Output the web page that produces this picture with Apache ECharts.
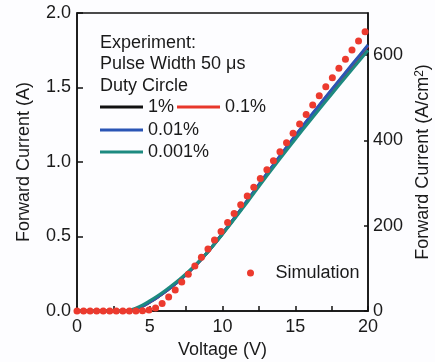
<!DOCTYPE html>
<html>
<head>
<meta charset="utf-8">
<script src="https://cdn.jsdelivr.net/npm/echarts@6/dist/echarts.min.js"></script>
<style>
  html, body { margin: 0; padding: 0; background: #fdfdff; }
  #main { width: 435px; height: 362px; }
</style>
</head>
<body>
<div id="main"></div>
<script>
// experiment: forward current (A) vs voltage (V), four duty cycles
var expVoltage = [0, 1, 2, 3, 3.5, 4, 4.5, 5, 5.5, 6, 6.5, 7, 7.5, 8, 8.5, 9, 9.5, 10, 10.5, 11, 11.5, 12, 13, 14, 15, 16, 17, 18, 19, 20];
var duty1 = [0, 0, 0, 0, 0.002, 0.012, 0.032, 0.06, 0.091, 0.125, 0.162, 0.202, 0.245, 0.292, 0.343, 0.398, 0.457, 0.519, 0.582, 0.646, 0.712, 0.778, 0.911, 1.042, 1.17, 1.294, 1.416, 1.536, 1.654, 1.77];
var duty01 = [0, 0, 0, 0, 0.002, 0.012, 0.032, 0.06, 0.091, 0.125, 0.162, 0.202, 0.245, 0.292, 0.343, 0.398, 0.457, 0.519, 0.583, 0.647, 0.713, 0.78, 0.913, 1.045, 1.174, 1.299, 1.421, 1.542, 1.661, 1.78];
var duty001 = [0, 0, 0, 0, 0.002, 0.012, 0.032, 0.06, 0.091, 0.125, 0.162, 0.202, 0.245, 0.292, 0.343, 0.398, 0.457, 0.519, 0.583, 0.648, 0.714, 0.781, 0.915, 1.047, 1.176, 1.302, 1.425, 1.546, 1.666, 1.785];
var duty0001 = [0, 0, 0, 0, 0.003, 0.017, 0.039, 0.068, 0.099, 0.133, 0.17, 0.209, 0.251, 0.296, 0.345, 0.398, 0.455, 0.515, 0.577, 0.64, 0.704, 0.769, 0.9, 1.028, 1.153, 1.275, 1.395, 1.514, 1.632, 1.75];

// simulation points
var simVoltage = [0, 0.45, 0.9, 1.35, 1.8, 2.25, 2.7, 3.15, 3.6, 4.05, 4.5, 4.95, 5.4, 5.85, 6.3, 6.75, 7.2, 7.65, 8.1, 8.55, 9.0, 9.45, 9.9, 10.35, 10.8, 11.25, 11.7, 12.15, 12.6, 13.05, 13.5, 13.95, 14.4, 14.85, 15.3, 15.75, 16.2, 16.65, 17.1, 17.55, 18.0, 18.45, 18.9, 19.35, 19.8];
var simCurrent = [0, 0, 0, 0, 0, 0, 0, 0, 0, 0, 0.002, 0.006, 0.02, 0.05, 0.094, 0.141, 0.195, 0.246, 0.302, 0.36, 0.416, 0.477, 0.534, 0.594, 0.655, 0.713, 0.772, 0.83, 0.889, 0.948, 1.009, 1.069, 1.13, 1.193, 1.255, 1.318, 1.383, 1.445, 1.505, 1.566, 1.629, 1.689, 1.752, 1.812, 1.875];

var xTicks = [0, 5, 10, 15, 20];
var rightTicks = [0, 200, 400, 600];

function pairs(xs, ys) {
    var out = [];
    for (var i = 0; i < xs.length; i++) out.push([xs[i], ys[i]]);
    return out;
}

var FONT = 'Liberation Sans, Arial, sans-serif';
var TXT = '#1a1a1a';
var FS = 18;

var myChart = echarts.init(document.getElementById('main'), null, {renderer: 'canvas'});

var lineSeries = function (name, data, color) {
    return {
        name: name,
        type: 'line',
        data: pairs(expVoltage, data),
        showSymbol: false,
        symbol: 'none',
        smooth: 0.3,
        lineStyle: {color: color, width: 3},
        itemStyle: {color: color},
        z: 2
    };
};

var legendText = {fontFamily: FONT, fontSize: FS, color: TXT, lineHeight: 20};

var option = {
    animation: false,
    backgroundColor: '#fdfdff',
    textStyle: {fontFamily: FONT},
    grid: {
        left: 77, right: 67, top: 13, bottom: 51,
        outerBoundsMode: 'none',
        show: true, borderColor: '#111', borderWidth: 1.5, backgroundColor: 'transparent'
    },
    title: {
        text: 'Experiment:\nPulse Width 50 \u03bcs\nDuty Circle',
        left: 100, top: 32, padding: 0,
        textStyle: {fontFamily: FONT, fontSize: FS, fontWeight: 'normal', color: TXT, lineHeight: 21.5}
    },
    legend: [
        {
            data: ['1%', '0.1%'], left: 100, top: 97, padding: 0, itemGap: 3,
            icon: 'rect', itemWidth: 43, itemHeight: 3, textStyle: legendText
        },
        {
            data: ['0.01%'], left: 100, top: 120, padding: 0,
            icon: 'rect', itemWidth: 43, itemHeight: 3, textStyle: legendText
        },
        {
            data: ['0.001%'], left: 100, top: 142, padding: 0,
            icon: 'rect', itemWidth: 43, itemHeight: 3, textStyle: legendText
        },
        {
            data: ['Simulation'], left: 247, top: 263, padding: 0,
            icon: 'circle', itemWidth: 40, itemHeight: 7, textStyle: legendText
        }
    ],
    xAxis: {
        type: 'value', min: 0, max: 20, interval: 2.5,
        name: 'Voltage (V)', nameLocation: 'middle', nameGap: 28,
        nameTextStyle: {fontFamily: FONT, fontSize: FS, color: TXT},
        axisLine: {lineStyle: {color: '#111', width: 1.5}},
        axisTick: {inside: true, length: 5, lineStyle: {color: '#111', width: 1.5}},
        axisLabel: {
            fontFamily: FONT, fontSize: FS, color: TXT, margin: 7,
            formatter: function (v) { return xTicks.indexOf(v) >= 0 ? String(v) : ''; }
        },
        splitLine: {show: false}
    },
    yAxis: [
        {
            type: 'value', min: 0, max: 2, interval: 0.5, position: 'left',
            name: 'Forward Current (A)', nameLocation: 'middle', nameGap: 44,
            nameTextStyle: {fontFamily: FONT, fontSize: FS, color: TXT},
            axisLine: {show: true, lineStyle: {color: '#111', width: 1.5}},
            axisTick: {show: true, inside: true, length: 6, lineStyle: {color: '#111', width: 1.5}},
            axisLabel: {
                fontFamily: FONT, fontSize: FS, color: TXT, margin: 6,
                formatter: function (v) { return v.toFixed(1); }
            },
            splitLine: {show: false}
        },
        {
            type: 'value', min: 0, max: 698.5, position: 'right',
            name: 'Forward Current (A/cm{sup|2})', nameLocation: 'middle', nameGap: 31,
            nameTextStyle: {
                fontFamily: FONT, fontSize: FS, color: TXT,
                rich: {sup: {fontFamily: FONT, fontSize: 12, color: TXT, verticalAlign: 'top'}}
            },
            axisLine: {show: true, lineStyle: {color: '#111', width: 1.5}},
            axisTick: {show: true, inside: true, length: 4, customValues: rightTicks, lineStyle: {color: '#111', width: 1.5}},
            axisLabel: {fontFamily: FONT, fontSize: FS, color: TXT, margin: 5, customValues: rightTicks},
            splitLine: {show: false}
        }
    ],
    series: [
        lineSeries('1%', duty1, '#111111'),
        lineSeries('0.1%', duty01, '#e8372b'),
        lineSeries('0.01%', duty001, '#2a55b5'),
        lineSeries('0.001%', duty0001, '#1d8a80'),
        {
            name: 'Simulation',
            type: 'scatter',
            data: pairs(simVoltage, simCurrent),
            symbol: 'circle',
            symbolSize: 7,
            itemStyle: {color: '#ec3a2e', opacity: 1},
            z: 3
        }
    ]
};

myChart.setOption(option);
</script>
</body>
</html>
